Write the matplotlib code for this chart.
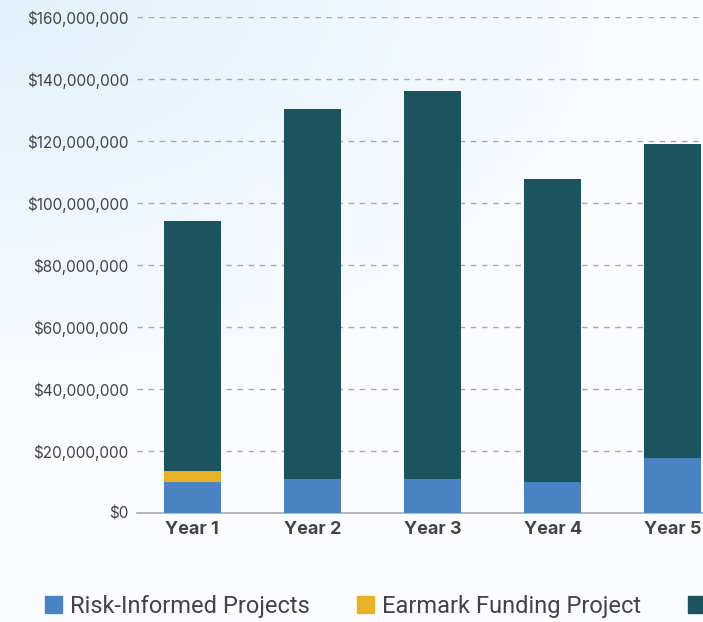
import matplotlib.pyplot as plt
import numpy as np
from matplotlib.patches import Patch
from matplotlib.ticker import FuncFormatter

years = ["Year 1", "Year 2", "Year 3", "Year 4", "Year 5"]
risk_informed = [10.0e6, 11.0e6, 11.0e6, 10.0e6, 17.7e6]
earmark = [3.5e6, 0, 0, 0, 0]
other = [80.7e6, 119.3e6, 125.1e6, 97.7e6, 101.3e6]
series_names = ["Risk-Informed Projects", "Earmark Funding Project", "Other Projects"]
colors = ["#4a83c4", "#e8b224", "#1b535f"]

fig = plt.figure(figsize=(7.03, 6.22), dpi=100)

# soft blue wash in the top-left corner
bg = fig.add_axes([0, 0, 1, 1], zorder=-10)
yy, xx = np.mgrid[0:1:200j, 0:1:200j]
d = np.clip(np.sqrt((xx * 0.9) ** 2 + (yy * 1.3) ** 2), 0, 1)
c0 = np.array([0.88, 0.95, 0.985])
c1 = np.array([0.985, 0.99, 1.0])
img = c0 + (c1 - c0) * np.clip(d / 0.9, 0, 1)[..., None]
bg.imshow(img, extent=[0, 1, 0, 1], aspect="auto", origin="upper")
bg.axis("off")

# axes runs off the right edge, like the cropped original
ax = fig.add_axes([137 / 703, 109 / 622, 608 / 703, 496 / 622])
ax.patch.set_alpha(0)
x = np.arange(len(years))
w = 0.474
bottom = np.zeros(len(years))
for vals, col in zip([risk_informed, earmark, other], colors):
    ax.bar(x, vals, w, bottom=bottom, color=col, zorder=3)
    bottom += np.array(vals)

ax.set_xlim(-0.46, 4.6)
ax.set_ylim(0, 160e6)
ax.set_yticks(np.arange(0, 160e6 + 1, 20e6))
ax.yaxis.set_major_formatter(FuncFormatter(lambda v, p: f"${v:,.0f}"))
ax.set_xticks(x)
ax.set_xticklabels(years, fontsize=13, fontweight="bold", color="#444444", family="Inter")
for lab in ax.get_yticklabels():
    lab.set_family("Inter")
ax.tick_params(axis="y", length=0, labelsize=11, labelcolor="#444444", pad=6)
ax.tick_params(axis="x", length=0, pad=6)
ax.grid(axis="y", color="#aaaaaa", linestyle=(0, (4, 4)), linewidth=1, zorder=0)
for s in ["top", "right", "left"]:
    ax.spines[s].set_visible(False)
ax.spines["bottom"].set_color("#aaaaaa")
ax.spines["bottom"].set_linewidth(1.2)

handles = [Patch(color=c) for c in colors]
fig.legend(handles, series_names, loc="center left", bbox_to_anchor=(45 / 703, 1 - 606 / 622),
           ncol=3, frameon=False, prop={"family": "Roboto", "size": 17},
           borderpad=0, borderaxespad=0,
           handlelength=0.72, handleheight=0.72, handletextpad=0.34, columnspacing=2.0,
           labelcolor="#444444")

fig.savefig("out.png", dpi=100)
